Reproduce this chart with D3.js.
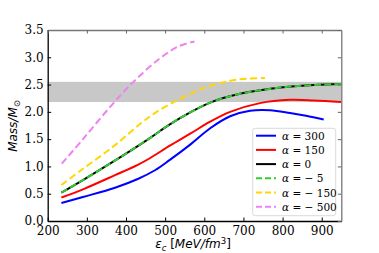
<!DOCTYPE html>
<html><head><meta charset="utf-8">
<script src="https://cdn.jsdelivr.net/npm/d3@7"></script>
<style>body{margin:0;background:#fff}svg{display:block}.sf{font-family:"DejaVu Serif",serif}</style>
</head><body>
<svg id="c" width="379" height="253"></svg>
<script>
const xTicks=[200,300,400,500,600,700,800,900];
const yTicks=[0,0.5,1,1.5,2,2.5,3,3.5];
const band=[2.18,2.55];
const labels=["α = 300","α = 150","α = 0","α = − 5","α = − 150","α = − 500"];
const blue=[[235,0.33],[290,0.44],[372,0.61],[430,0.77],[474,0.93],[512,1.12],[564,1.40],[615,1.70],[666,1.92],[717,2.02],[768,2.03],[819,1.98],[860,1.93],[905,1.86]];
const red=[[235,0.43],[290,0.58],[372,0.84],[430,1.03],[461,1.15],[512,1.38],[564,1.60],[615,1.82],[666,2.00],[742,2.16],[819,2.22],[880,2.21],[950,2.18]];
const black=[[235,0.52],[290,0.75],[359,1.05],[410,1.28],[461,1.52],[512,1.77],[564,1.99],[615,2.17],[691,2.33],[802,2.45],[880,2.49],[950,2.51]];
const green=black;
const gold=[[235,0.66],[287,0.94],[372,1.39],[440,1.80],[487,2.04],[564,2.33],[600,2.44],[666,2.57],[710,2.61],[755,2.62]];
const violet=[[236,1.05],[290,1.50],[363,2.12],[419,2.55],[483,2.96],[534,3.20],[575,3.29]];

const series=[
 {d:blue,c:"#0000ff",dash:null},
 {d:red,c:"#ff0000",dash:null},
 {d:black,c:"#000000",dash:null},
 {d:green,c:"#32cd32",dash:"7,3"},
 {d:gold,c:"#ffd700",dash:"7,3.5"},
 {d:violet,c:"#ee82ee",dash:"7,3.5"}];

const svg=d3.select("#c");
const L=47.7,R=341.3,T=30,B=221;
const x=d3.scaleLinear().domain([200,950]).range([L,R]);
const y=d3.scaleLinear().domain([0,3.5]).range([B,T]);

svg.append("rect").attr("x",L).attr("width",R-L).attr("y",y(band[1])).attr("height",y(band[0])-y(band[1])).attr("fill","#c8c8c8");

const line=d3.line().x(d=>x(d[0])).y(d=>y(d[1])).curve(d3.curveCatmullRom.alpha(0.5));
series.forEach(s=>{
  svg.append("path").attr("d",line(s.d)).attr("fill","none").attr("stroke",s.c)
   .attr("stroke-width",2).attr("stroke-dasharray",s.dash);
});

const ax=svg.append("g").attr("transform",`translate(0,${B})`).call(d3.axisBottom(x).tickValues(xTicks).tickSizeInner(-3.5).tickSizeOuter(0).tickPadding(5));
const ay=svg.append("g").attr("transform",`translate(${L},0)`).call(d3.axisLeft(y).tickValues(yTicks).tickFormat(d3.format(".1f")).tickSizeInner(-3.5).tickSizeOuter(0).tickPadding(4));
const at=svg.append("g").attr("transform",`translate(0,${T})`).call(d3.axisTop(x).tickValues(xTicks).tickSizeInner(-3.5).tickSizeOuter(0).tickFormat(""));
const ar=svg.append("g").attr("transform",`translate(${R},0)`).call(d3.axisRight(y).tickValues(yTicks).tickSizeInner(-3.5).tickSizeOuter(0).tickFormat(""));
[ax,ay].forEach(g=>{g.attr("font-family",null).attr("font-size",null);
  g.selectAll("text").attr("class","sf").style("font-size","12px").attr("fill","#000");
  g.selectAll("line").attr("stroke","#000");g.select(".domain").attr("stroke","#000").attr("stroke-width",1.3);});
[at,ar].forEach(g=>{g.selectAll("line").attr("stroke","#666");g.select(".domain").attr("stroke","#777").attr("stroke-width",1.3);});

const yl=svg.append("text").attr("transform",`translate(17,126) rotate(-90)`).attr("text-anchor","middle")
 .style("font-family","'DejaVu Sans',sans-serif").style("font-size","12px").style("font-style","italic");
yl.append("tspan").text("Mass/M");
yl.append("tspan").style("font-size","8.5px").attr("dy",3).style("font-style","normal").text("⊙");
const xl=svg.append("text").attr("x",193).attr("y",248).attr("text-anchor","middle")
 .style("font-family","'DejaVu Sans',sans-serif").style("font-size","12px").style("font-style","italic");
xl.append("tspan").text("ε");
xl.append("tspan").style("font-size","8.5px").attr("dy",2.5).text("c");
xl.append("tspan").attr("dy",-2.5).style("font-style","normal").text(" [");
xl.append("tspan").text("MeV/fm");
xl.append("tspan").style("font-size","8.5px").attr("dy",-4.5).style("font-style","normal").text("3");
xl.append("tspan").attr("dy",4.5).style("font-style","normal").text("]");

const lg=svg.append("g");
lg.append("rect").attr("x",252.7).attr("y",128.3).attr("width",83).attr("height",87.4).attr("rx",2.5)
 .attr("fill","#fff").attr("fill-opacity",0.85).attr("stroke","#d0d0d0").attr("stroke-width",0.8);
series.forEach((s,i)=>{
  const yy=135.7+i*14.2;
  lg.append("line").attr("x1",256).attr("x2",276).attr("y1",yy).attr("y2",yy).attr("stroke",s.c).attr("stroke-width",2)
   .attr("stroke-dasharray",s.dash?"6,3":null);
  const t=lg.append("text").attr("class","sf").attr("x",282).attr("y",yy+4).style("font-size","10.5px");
  t.append("tspan").style("font-style","italic").text(labels[i].slice(0,1));
  t.append("tspan").text(labels[i].slice(1));
});
</script>
</body></html>
